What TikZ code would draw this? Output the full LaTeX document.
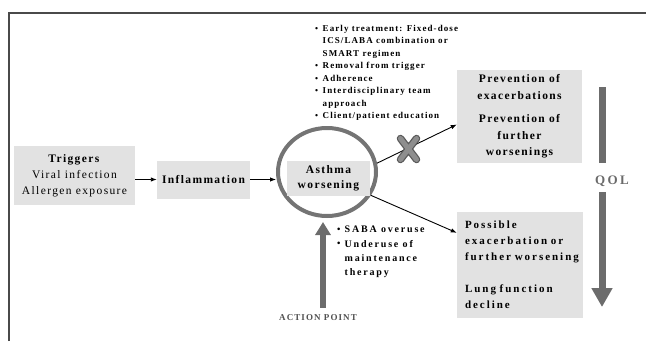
\documentclass[tikz,border=0pt]{standalone}
\usepackage{fontspec}
\setmainfont{Liberation Serif}[LetterSpace=12]
\newfontfamily\widefont{Liberation Serif}[LetterSpace=18]
\usetikzlibrary{arrows.meta,shapes.geometric}
\definecolor{boxgray}{HTML}{E2E2E2}
\definecolor{ringgray}{HTML}{747474}
\definecolor{bargray}{HTML}{6C6C6C}
\definecolor{framegray}{HTML}{4A4A4A}
\definecolor{xdark}{HTML}{5A5A5A}
\definecolor{xlight}{HTML}{8E8E8E}
\definecolor{qolgray}{HTML}{6A6A6A}
\definecolor{actgray}{HTML}{505050}
\newcommand\mybul{\makebox[7.5pt][l]{\raisebox{0.3pt}{\scalebox{0.95}{\textbullet}}}}
\newcommand\myind{\hspace*{7.5pt}}
\begin{document}
\begin{tikzpicture}[x=1pt,y=-1pt,
  gbox/.style={fill=boxgray, draw=none, inner sep=0pt, align=center},
  conn/.style={-{Latex[length=6pt,width=4.5pt]}, line width=0.9pt, black},
  actbar/.style={line width=6pt, draw=bargray, -{Triangle[width=15pt,length=13pt]}},
  qbar/.style={line width=7pt, draw=bargray},
  qarrow/.style={line width=7pt, draw=bargray, -{Triangle[width=20pt,length=19pt]}},
  bullets/.style={anchor=north west, inner sep=0pt, align=left}]
\useasboundingbox (0,0) rectangle (646,341);
\draw[framegray, line width=1.5pt] (9,341) -- (9,13) -- (646,13);

\node[gbox, minimum width=121pt, minimum height=59pt, font=\fontsize{11.5}{16}\selectfont] (trig) at (74.5,175.5)
  {\textbf{Triggers}\\Viral infection\\Allergen exposure};
\node[gbox, minimum width=93pt, minimum height=38pt, font=\bfseries\fontsize{11.5}{14}\selectfont] (infl) at (203.5,179.5) {Inflammation};

\node[ellipse, draw=ringgray, line width=4pt, minimum width=98pt, minimum height=88pt] (ell) at (327,172) {};
\node[gbox, minimum width=83pt, minimum height=35pt, font=\bfseries\fontsize{11.5}{14.5}\selectfont] (asth) at (328.5,178.5) {Asthma\\worsening};

\node[gbox, minimum width=125pt, minimum height=93pt, font=\bfseries\fontsize{11.5}{16.5}\selectfont] (prev) at (519.5,116.5)
  {Prevention of\\exacerbations\\[7pt]Prevention of\\further\\worsenings};
\node[gbox, minimum width=126pt, minimum height=106pt, text width=110pt, align=left, font=\widefont\bfseries\fontsize{11}{16}\selectfont] (poss) at (520,265)
  {Possible\\exacerbation or\\further worsening\\[16pt]Lung function\\decline};

\node[bullets, font=\bfseries\fontsize{9}{12.5}\selectfont] (tb) at (315,25)
  {\mybul Early treatment: Fixed-dose\\
   \myind ICS/LABA combination or\\
   \myind SMART regimen\\
   \mybul Removal from trigger\\
   \mybul Adherence\\
   \mybul Interdisciplinary team\\
   \myind approach\\
   \mybul Client/patient education};
\node[bullets, font=\widefont\bfseries\fontsize{10}{14.3}\selectfont] (bb) at (337,226)
  {\mybul SABA overuse\\
   \mybul Underuse of\\
   \myind maintenance\\
   \myind therapy};

\node[inner sep=0pt, text height=9pt, text depth=0pt, text=qolgray, font=\widefont\bfseries\fontsize{13}{15}\selectfont] (qol) at (612,180) {QOL};
\node[inner sep=0pt, text=actgray, font=\bfseries\fontsize{9}{10}\selectfont] (act) at (318,318) {ACTION POINT};

\coordinate (qtop) at (602,87);
\coordinate (qbot) at (602,307);

\draw[conn] (trig.east |- infl.west) -- (infl.west);
\draw[conn] (infl.east) -- (infl.east -| ell.west);
\draw[conn] (ell.10) -- ([yshift=-8pt]prev.west);
\draw[conn] (ell.-28) -- ([yshift=-21pt]poss.north west);

\draw[actbar] ([xshift=5pt,yshift=7pt]act.north) -- ([xshift=-4pt,yshift=-4pt]ell.south);
\draw[qbar, shorten >=12.5pt] (qtop) -- (qtop |- qol.north);
\draw[qarrow, shorten <=7.5pt] (qtop |- qol.south) -- (qbot);

\draw[xdark, line width=7.5pt, line cap=round] (400.5,138.5) -- (416.5,159.5) (416.5,138.5) -- (400.5,159.5);
\draw[xlight, line width=5pt, line cap=round] (400.5,138.5) -- (416.5,159.5) (416.5,138.5) -- (400.5,159.5);
\end{tikzpicture}
\end{document}
